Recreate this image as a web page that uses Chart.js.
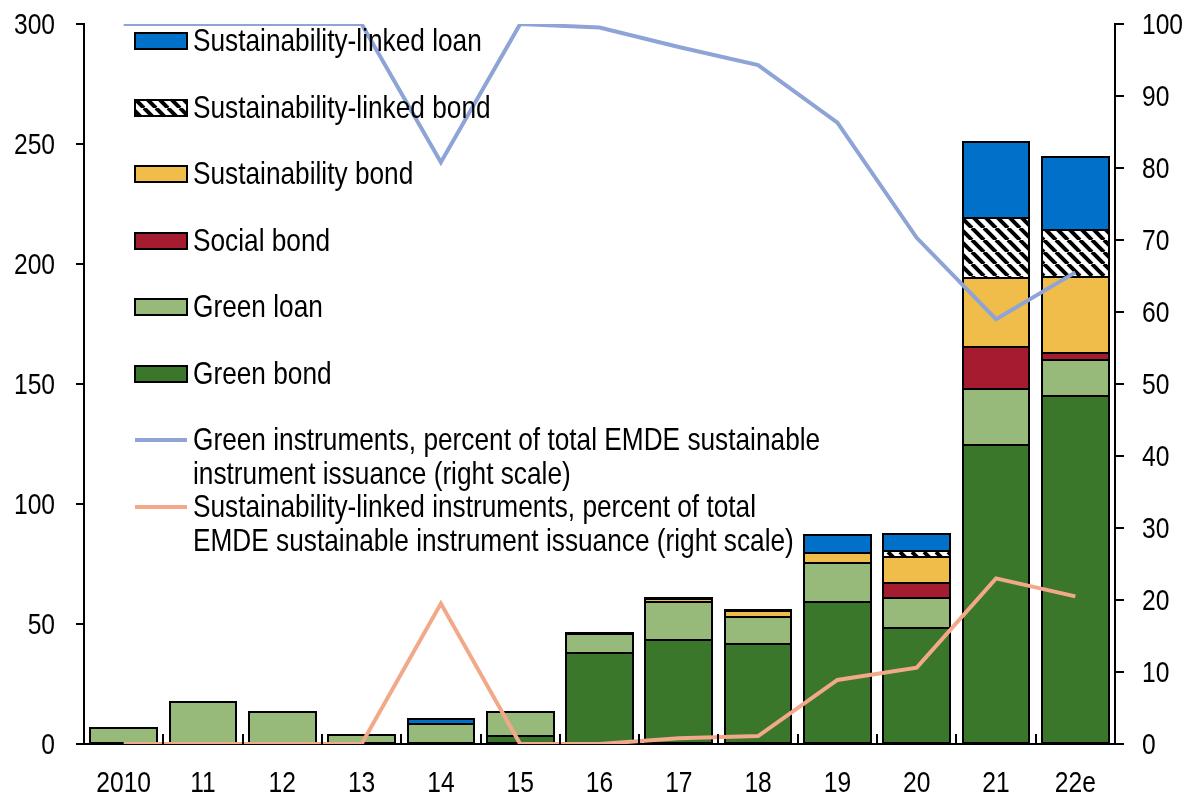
<!DOCTYPE html>
<html>
<head>
<meta charset="utf-8">
<script src="https://cdn.jsdelivr.net/npm/chart.js@4.4.0/dist/chart.umd.min.js"></script>
<style>
  html, body { margin: 0; padding: 0; background: #fff; }
  #chart { display: block; }
</style>
</head>
<body>
<canvas id="chart" width="1188" height="796"></canvas>
<script>
// --- Data (USD billions, left scale; shares in percent, right scale) ---
const years = ['2010', '11', '12', '13', '14', '15', '16', '17', '18', '19', '20', '21', '22e'];
const greenBond  = [0,   0,    0,    0,   0.3, 3.4, 38,  43.5, 41.5, 59,   48.5, 124.5, 145];
const greenLoan  = [6.5, 17.5, 13.5, 3.7, 8.0, 10,  8,   15.5, 11.5, 16.5, 12.5, 23.5,  15];
const socialBond = [0,   0,    0,    0,   0,   0,   0.3, 0,    0,    0,    6,    17.5,  3];
const sustBond   = [0,   0,    0,    0,   0,   0,   0,   1.5,  2.5,  4,    11,   28.5,  31.5];
const slBond     = [0,   0,    0,    0,   0,   0,   0,   0,    0,    0,    2.5,  25,    19.5];
const slLoan     = [0,   0,    0,    0,   2.0, 0,   0,   0.3,  0.4,  7.5,  7,    32,    30.5];
const greenShare = [100, 100, 100, 100, 80.8, 100, 99.5, 96.8, 94.3, 86.3, 70.3, 59, 65.5];
const slShare    = [0,   0,   0,   0,   19.5, 0,   0,    0.8,  1.1,  8.9,  10.6, 23, 20.5];

const leftTicks = { min: 0, max: 300, step: 50 };
const rightTicks = { min: 0, max: 100, step: 10 };

// Colours
const C = {
  greenBond: '#3b772b',
  greenLoan: '#97ba7b',
  social: '#a51b2f',
  sust: '#f0bd4a',
  sll: '#0070c8',
  greenLine: '#8ea4d6',
  slLine: '#f2a98a'
};

// Helper short-hands
const qs = (sel, ctx = document) => ctx.querySelector(sel);

// Reference text is Arial Narrow: use it if present, else squeeze Liberation Sans
function hasFont(name) {
  const c = document.createElement('canvas').getContext('2d');
  const s = 'Sustainability-linked 0123456789';
  c.font = '30px monospace';
  const a = c.measureText(s).width;
  c.font = `30px "${name}", monospace`;
  return c.measureText(s).width !== a;
}
const narrow = hasFont('Liberation Sans Narrow');
const FAMILY = narrow ? '"Liberation Sans Narrow", "Liberation Sans", Arial, sans-serif'
                      : '"Liberation Sans", Arial, sans-serif';
const SQUEEZE = narrow ? 1 : 0.82;
const TICK_SIZE = 30;
const LEGEND_SIZE = 32;

const canvas = qs('#chart');
const ctx = canvas.getContext('2d');

function squeezedText(ctx, text, x, y, align) {
  const w = ctx.measureText(text).width * SQUEEZE;
  const left = align === 'right' ? x - w : align === 'center' ? x - w / 2 : x;
  ctx.save();
  ctx.translate(left, y);
  ctx.scale(SQUEEZE, 1);
  ctx.textAlign = 'left';
  ctx.fillText(text, 0, 0);
  ctx.restore();
}

// Diagonal black/white hatch for sustainability-linked bond
function makeHatch() {
  const p = 12;
  const c = document.createElement('canvas');
  c.width = c.height = p;
  const g = c.getContext('2d');
  g.fillStyle = '#fff';
  g.fillRect(0, 0, p, p);
  g.strokeStyle = '#000';
  g.lineWidth = 4;
  for (let k = -1; k <= 1; k++) {
    g.beginPath();
    g.moveTo(k * p, 0);
    g.lineTo(k * p + p, p);
    g.stroke();
  }
  return ctx.createPattern(c, 'repeat');
}
const hatch = makeHatch();

const legendEntries = [
  { kind: 'box', fill: C.sll, text: ['Sustainability-linked loan'] },
  { kind: 'box', fill: hatch, text: ['Sustainability-linked bond'] },
  { kind: 'box', fill: C.sust, text: ['Sustainability bond'] },
  { kind: 'box', fill: C.social, text: ['Social bond'] },
  { kind: 'box', fill: C.greenLoan, text: ['Green loan'] },
  { kind: 'box', fill: C.greenBond, text: ['Green bond'] },
  { kind: 'line', color: C.greenLine, text: ['Green instruments, percent of total EMDE sustainable', 'instrument issuance (right scale)'] },
  { kind: 'line', color: C.slLine, text: ['Sustainability-linked instruments, percent of total', 'EMDE sustainable instrument issuance (right scale)'] }
];

// --- Black outline round every bar segment, taken from the bar elements ---
const outlinePlugin = {
  id: 'barOutlines',
  afterDatasetDraw(chart, args) {
    if (args.meta.type !== 'bar') return;
    const { ctx } = chart;
    ctx.save();
    ctx.strokeStyle = '#000';
    ctx.lineWidth = 2;
    args.meta.data.forEach(el => {
      const p = el.getProps(['x', 'y', 'base', 'width'], true);
      if (p.y == null || isNaN(p.y) || p.y === p.base) return;
      const l = Math.round(p.x - p.width / 2), r = Math.round(p.x + p.width / 2);
      const t = Math.round(Math.min(p.y, p.base)), b = Math.round(Math.max(p.y, p.base));
      ctx.strokeRect(l, t, r - l, b - t);
    });
    ctx.restore();
  }
};

// --- Axis labels (drawn narrow, from the scales' own ticks) ---
const labelPlugin = {
  id: 'narrowLabels',
  afterDraw(chart) {
    const { ctx, chartArea: a, scales: { x, y, y1 } } = chart;
    ctx.save();
    ctx.font = `${TICK_SIZE}px ${FAMILY}`;
    ctx.fillStyle = '#000';
    ctx.textBaseline = 'alphabetic';
    y.ticks.forEach(t => squeezedText(ctx, String(t.value), a.left - 29, y.getPixelForValue(t.value) + 10, 'right'));
    y1.ticks.forEach(t => squeezedText(ctx, String(t.value), a.right + 27, y1.getPixelForValue(t.value) + 10, 'left'));
    years.forEach((lab, i) => squeezedText(ctx, lab, x.getPixelForValue(i), a.bottom + 48, 'center'));
    ctx.restore();
  }
};

// --- Custom legend drawn inside the plot area ---
const legendPlugin = {
  id: 'insideLegend',
  afterDraw(chart) {
    const { ctx, chartArea: a } = chart;
    const rowGap = 66.5, lineGap = 34;
    const bx = a.left + 51, bw = 52, bh = 16, tx = a.left + 109;
    ctx.save();
    ctx.font = `${LEGEND_SIZE}px ${FAMILY}`;
    ctx.textBaseline = 'middle';
    legendEntries.forEach((e, i) => {
      const cy = Math.round(a.top + 17 + i * rowGap);
      if (e.kind === 'box') {
        ctx.fillStyle = e.fill;
        ctx.fillRect(bx, cy - bh / 2, bw, bh);
        ctx.lineWidth = 2;
        ctx.strokeStyle = '#000';
        ctx.strokeRect(bx, cy - bh / 2, bw, bh);
      } else {
        ctx.strokeStyle = e.color;
        ctx.lineWidth = 4;
        ctx.beginPath();
        ctx.moveTo(bx, cy);
        ctx.lineTo(bx + bw, cy);
        ctx.stroke();
      }
      ctx.fillStyle = '#000';
      e.text.forEach((t, j) => squeezedText(ctx, t, tx, cy + 1 + j * lineGap, 'left'));
    });
    ctx.restore();
  }
};

// --- Short inward tick marks between categories on the x axis ---
const xTickPlugin = {
  id: 'innerXTicks',
  afterDraw(chart) {
    const { ctx, chartArea: a, scales: { x } } = chart;
    ctx.save();
    ctx.strokeStyle = '#000';
    ctx.lineWidth = 2;
    for (let i = 1; i < years.length; i++) {
      const px = Math.round((x.getPixelForValue(i - 1) + x.getPixelForValue(i)) / 2);
      ctx.beginPath();
      ctx.moveTo(px, a.bottom);
      ctx.lineTo(px, a.bottom - 10);
      ctx.stroke();
    }
    ctx.restore();
  }
};

const nz = arr => arr.map(v => (v === 0 ? null : v));
const bar = (label, data, color) => ({
  type: 'bar', label, data: nz(data), yAxisID: 'y', order: 1,
  backgroundColor: color, borderWidth: 0, inflateAmount: 0,
  categoryPercentage: 1, barPercentage: 0.84
});
const line = (label, data, color) => ({
  type: 'line', label, data, yAxisID: 'y1', order: 0,
  borderColor: color, borderWidth: 4, pointRadius: 0, tension: 0, fill: false
});

new Chart(ctx, {
  data: {
    labels: years,
    datasets: [
      bar('Green bond', greenBond, C.greenBond),
      bar('Green loan', greenLoan, C.greenLoan),
      bar('Social bond', socialBond, C.social),
      bar('Sustainability bond', sustBond, C.sust),
      bar('Sustainability-linked bond', slBond, hatch),
      bar('Sustainability-linked loan', slLoan, C.sll),
      line('Green instruments, percent of total EMDE sustainable instrument issuance (right scale)', greenShare, C.greenLine),
      line('Sustainability-linked instruments, percent of total EMDE sustainable instrument issuance (right scale)', slShare, C.slLine)
    ]
  },
  options: {
    responsive: false,
    animation: false,
    devicePixelRatio: 1,
    layout: { padding: { top: 24, left: 0, right: 0, bottom: 0 } },
    plugins: { legend: { display: false }, tooltip: { enabled: false } },
    scales: {
      x: {
        stacked: true,
        offset: true,
        grid: { display: false, drawTicks: false },
        border: { display: true, color: '#000', width: 2 },
        ticks: { display: false, autoSkip: false },
        afterFit: s => { s.height = 52; }
      },
      y: {
        stacked: true,
        position: 'left',
        min: leftTicks.min, max: leftTicks.max,
        ticks: { display: false, stepSize: leftTicks.step },
        grid: { drawOnChartArea: false, color: '#000', lineWidth: 2, tickLength: 8 },
        border: { color: '#000', width: 2 },
        afterFit: s => { s.width = 84; }
      },
      y1: {
        position: 'right',
        min: rightTicks.min, max: rightTicks.max,
        ticks: { display: false, stepSize: rightTicks.step },
        grid: { drawOnChartArea: false, color: '#000', lineWidth: 2, tickLength: 9 },
        border: { color: '#000', width: 2 },
        afterFit: s => { s.width = 73; }
      }
    }
  },
  plugins: [outlinePlugin, xTickPlugin, labelPlugin, legendPlugin]
});
</script>
</body>
</html>
